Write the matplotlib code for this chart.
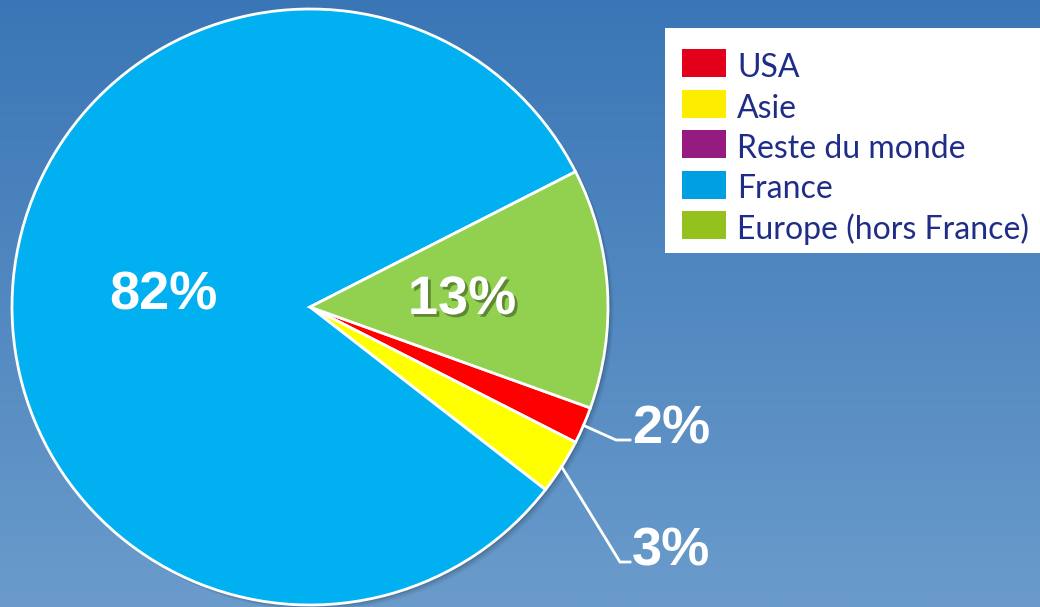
import numpy as np
import matplotlib.pyplot as plt
import matplotlib.patheffects as pe
from matplotlib.patches import Rectangle, Circle
from matplotlib.colors import LinearSegmentedColormap

# data
categories = ["USA", "Asie", "Reste du monde", "France", "Europe (hors France)"]
shares = [2, 3, 0, 82, 13]
pie_colors = ["#ff0000", "#ffff00", "#951b81", "#00b0f0", "#92d050"]
legend_colors = ["#e2001a", "#ffed00", "#951b81", "#009fe3", "#95c11f"]
labels = ["2%", "3%", "", "82%", "13%"]

W, H = 1040, 607
fig = plt.figure(figsize=(W / 100, H / 100), dpi=100)
ax = fig.add_axes([0, 0, 1, 1])

# background gradient
grad = LinearSegmentedColormap.from_list("bg", ["#6a9bcb", "#3a76b6"])
ax.imshow(np.linspace(0, 1, 256).reshape(-1, 1), cmap=grad, aspect="auto",
          extent=[0, W, 0, H], origin="lower", zorder=0)

cx, cy, r = 310, 300, 298
start = -19.8

# soft shadow
for k, a in [(7, 0.05), (5, 0.07), (3, 0.1)]:
    ax.add_patch(Circle((cx + k * 0.8, cy - k * 0.8), r, color="black",
                        alpha=a, lw=0, zorder=1))

wedges, _ = ax.pie(shares, colors=pie_colors, startangle=start,
                   counterclock=False, center=(cx, cy), radius=r, frame=True,
                   wedgeprops=dict(edgecolor="white", linewidth=2, zorder=2))
for w in wedges:
    w.set_zorder(2)

ax.set_xlim(0, W)
ax.set_ylim(0, H)
ax.set_aspect("equal")
ax.set_axis_off()

lab_font = dict(family=["Liberation Sans", "DejaVu Sans"], fontsize=39,
                fontweight="bold", color="white", zorder=5)
shadow = [pe.SimplePatchShadow(offset=(2, -2), shadow_rgbFace="black",
                               alpha=0.35), pe.Normal()]

# angles of each wedge
bounds = start - np.cumsum([0] + shares) * 3.6
mids = (bounds[:-1] + bounds[1:]) / 2

# inside labels
ax.text(163, H - 296, labels[3], ha="center", va="center", **lab_font)
ax.text(462, H - 300, labels[4], ha="center", va="center",
        path_effects=shadow, **lab_font)

# outside labels with leader lines
for i, ypix in [(0, 440), (1, 562)]:
    a = np.deg2rad(mids[i])
    x0, y0 = cx + r * np.cos(a), cy + r * np.sin(a)
    yl = H - ypix
    ax.plot([x0, 616 if i == 0 else 620, 630], [y0, yl, yl], color="white",
            lw=2, zorder=4, solid_joinstyle="miter")
    ax.text(632, yl - 4, labels[i], ha="left", va="baseline", **lab_font)

# legend
ax.add_patch(Rectangle((665, H - 253), 380, 225, facecolor="white",
                       edgecolor="none", zorder=6))
for i, (name, col) in enumerate(zip(categories, legend_colors)):
    top = 49 + i * 40.5
    ax.add_patch(Rectangle((682, H - top - 28), 44, 28, facecolor=col,
                           edgecolor="none", zorder=7))
    ax.text(737, H - top - 28, name, ha="left", va="baseline",
            family=["Lato", "DejaVu Sans"], fontsize=23, color="#1f2d87",
            zorder=7)

fig.savefig("out.png", dpi=100)
